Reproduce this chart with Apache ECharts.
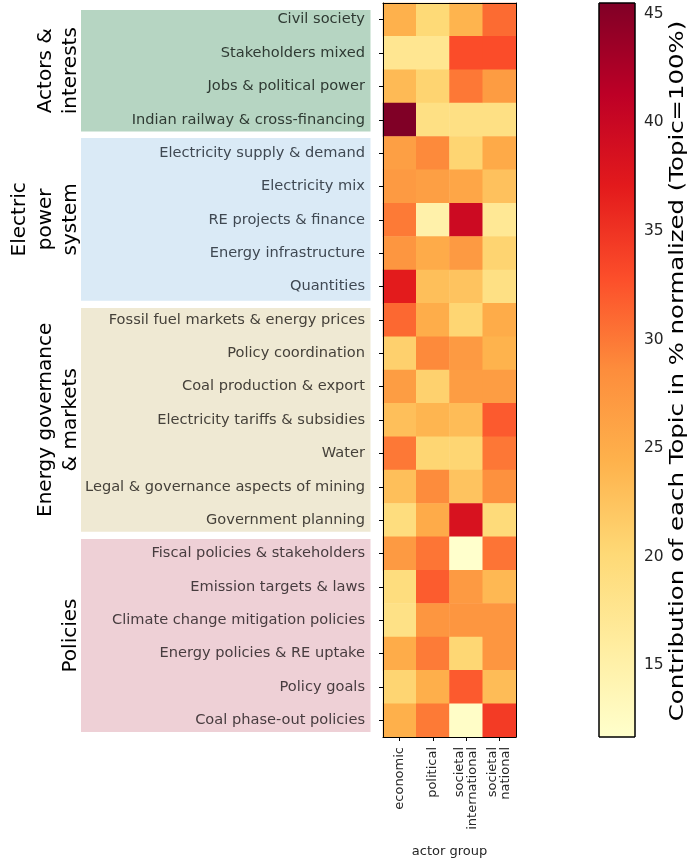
<!DOCTYPE html>
<html>
<head>
<meta charset="utf-8">
<script src="https://cdn.jsdelivr.net/npm/echarts@6/dist/echarts.min.js"></script>
<style>
  html, body { margin: 0; padding: 0; background: #ffffff; }
  #chart { width: 691px; height: 863px; }
</style>
</head>
<body>
<div id="chart"></div>
<script>
// Actor groups (columns) and topics (rows, top to bottom)
const actorGroups = ['economic', 'political', 'societal\ninternational', 'societal\nnational'];
const topics = [
  'Civil society',
  'Stakeholders mixed',
  'Jobs & political power',
  'Indian railway & cross-financing',
  'Electricity supply & demand',
  'Electricity mix',
  'RE projects & finance',
  'Energy infrastructure',
  'Quantities',
  'Fossil fuel markets & energy prices',
  'Policy coordination',
  'Coal production & export',
  'Electricity tariffs & subsidies',
  'Water',
  'Legal & governance aspects of mining',
  'Government planning',
  'Fiscal policies & stakeholders',
  'Emission targets & laws',
  'Climate change mitigation policies',
  'Energy policies & RE uptake',
  'Policy goals',
  'Coal phase-out policies'
];

// Topic families drawn as shaded bands beside the row labels
const familyNames = ['Actors &\ninterests', 'Electric\npower\nsystem', 'Energy governance\n& markets', 'Policies'];
const familyFirstRow = [0, 4, 9, 16];
const familyLastRow = [3, 8, 15, 21];
const familyColors = ['#b6d5c2', '#daeaf6', '#efe9d3', '#eed0d6'];
const familyTextColors = ['#2f3a33', '#3f4852', '#45413a', '#473c3f'];

// Contribution of each topic (% normalized, topic = 100 %) per actor group
const economic = [24.5, 17.4, 23.5, 45.5, 26.5, 27.1, 29.9, 27.6, 37.0, 31.1, 21.1,
                  26.8, 23.0, 30.0, 23.0, 19.3, 27.1, 19.3, 18.5, 25.1, 20.6, 24.6];
const political = [20.0, 17.4, 20.7, 18.7, 28.8, 26.5, 15.0, 25.2, 23.0, 25.0, 28.8,
                   21.0, 24.0, 20.5, 28.7, 25.2, 30.2, 31.9, 27.6, 29.8, 24.7, 29.9];
const societalInternational = [24.2, 33.0, 30.0, 18.7, 20.6, 25.7, 39.6, 27.1, 22.5, 20.5, 27.1,
                               26.8, 23.3, 20.5, 22.5, 38.4, 11.7, 27.1, 27.6, 20.4, 32.0, 12.2];
const societalNational = [30.9, 33.0, 26.9, 18.7, 25.3, 22.7, 17.0, 20.7, 18.7, 25.1, 24.3,
                          26.8, 32.0, 30.1, 28.2, 19.7, 30.3, 23.7, 27.6, 27.6, 23.3, 34.4];

// Colour scale
const valueMin = 11.7;
const valueMax = 45.5;
const colorbarTicks = [15, 20, 25, 30, 35, 40, 45];
const colorbarTitle = 'Contribution of each Topic in % normalized (Topic=100%)';
const ylOrRd = ['#ffffcc', '#ffeda0', '#fed976', '#feb24c', '#fd8d3c',
                '#fc4e2a', '#e31a1c', '#bd0026', '#800026'];

const FONT = 'DejaVu Sans';
const columns = [economic, political, societalInternational, societalNational];
const cells = [];
columns.forEach((col, x) => col.forEach((v, y) => cells.push([x, y, v])));

const chart = echarts.init(document.getElementById('chart'), null, { renderer: 'canvas' });

const heatGrid = { left: 383, top: 3, width: 133, height: 734 };
const barGrid = { left: 599, top: 3, width: 36, height: 734 };
const blackLine = { show: true, lineStyle: { color: '#000000', width: 1 } };

chart.setOption({
  animation: false,
  backgroundColor: '#ffffff',
  textStyle: { fontFamily: FONT },
  grid: [heatGrid, barGrid],
  xAxis: [
    {
      gridIndex: 0, type: 'category', data: actorGroups, position: 'bottom', z: 10,
      axisLine: blackLine,
      axisTick: { show: true, alignWithLabel: true, length: 4, lineStyle: { color: '#000' } },
      axisLabel: { rotate: 90, fontSize: 13, margin: 10, color: '#262626', fontFamily: FONT, interval: 0 },
      splitLine: { show: false },
      name: 'actor group', nameLocation: 'middle', nameGap: 108,
      nameTextStyle: { fontSize: 13, color: '#262626', fontFamily: FONT }
    },
    {
      gridIndex: 0, type: 'category', data: actorGroups, position: 'top', z: 10,
      axisLine: blackLine, axisTick: { show: false }, axisLabel: { show: false }
    },
    { gridIndex: 1, type: 'value', min: 0, max: 1, show: false }
  ],
  yAxis: [
    {
      gridIndex: 0, type: 'category', data: topics, inverse: true, z: 10,
      axisLine: blackLine,
      axisTick: { show: true, alignWithLabel: true, length: 4, lineStyle: { color: '#000' } },
      axisLabel: {
        fontSize: 14.6, margin: 18, fontFamily: FONT, interval: 0,
        color: (val, idx) => {
          let f = 0;
          familyFirstRow.forEach((r, k) => { if (idx >= r) f = k; });
          return familyTextColors[f];
        }
      },
      splitLine: { show: false }
    },
    {
      gridIndex: 0, type: 'category', data: topics, inverse: true, position: 'right', z: 10,
      axisLine: blackLine, axisTick: { show: false }, axisLabel: { show: false }
    },
    {
      gridIndex: 1, type: 'value', min: valueMin, max: valueMax, position: 'right',
      axisLine: { show: false },
      axisTick: { show: true, length: 4, customValues: colorbarTicks, lineStyle: { color: '#000' } },
      axisLabel: { customValues: colorbarTicks, fontSize: 15.5, margin: 9, color: '#262626', fontFamily: FONT },
      splitLine: { show: false }
    }
  ],
  visualMap: {
    type: 'continuous', show: false, seriesIndex: 0,
    min: valueMin, max: valueMax, inRange: { color: ylOrRd }
  },
  series: [
    {
      type: 'heatmap', xAxisIndex: 0, yAxisIndex: 0, data: cells,
      itemStyle: { borderWidth: 0 },
      emphasis: { disabled: true }
    },
    {
      // colour bar drawn on its own value axis
      type: 'custom', xAxisIndex: 2, yAxisIndex: 2, data: [[0, valueMin]], silent: true,
      renderItem: (params, api) => {
        const p0 = api.coord([0, valueMax]);
        const p1 = api.coord([1, valueMin]);
        const stops = ylOrRd.map((c, i) => ({ offset: 1 - i / (ylOrRd.length - 1), color: c })).reverse();
        return {
          type: 'rect',
          shape: { x: p0[0], y: p0[1], width: p1[0] - p0[0], height: p1[1] - p0[1] },
          style: {
            fill: new echarts.graphic.LinearGradient(0, 0, 0, 1, stops),
            stroke: '#000000', lineWidth: 1
          }
        };
      }
    }
  ]
});

// Family bands and their rotated titles, placed from the row positions
const rowH = heatGrid.height / topics.length;
const bandLeft = heatGrid.left - 302;
const bandRight = heatGrid.left - 12.5;
const bandInsetTop = [7, 1.6, 4.7, 2.2];
const bandInsetBottom = [5, 2.6, 5.1, 5];
const graphics = [];
familyNames.forEach((name, k) => {
  const yFirst = chart.convertToPixel({ yAxisIndex: 0 }, topics[familyFirstRow[k]]);
  const yLast = chart.convertToPixel({ yAxisIndex: 0 }, topics[familyLastRow[k]]);
  const top = yFirst - rowH / 2 + bandInsetTop[k];
  const bottom = yLast + rowH / 2 - bandInsetBottom[k];
  graphics.push({
    type: 'rect', z: 1, silent: true,
    shape: { x: bandLeft, y: top, width: bandRight - bandLeft, height: bottom - top },
    style: { fill: familyColors[k] }
  });
  graphics.push({
    type: 'text', z: 2, silent: true,
    x: bandLeft + 3, y: (top + bottom) / 2, rotation: Math.PI / 2,
    style: {
      text: name, fontSize: 20, fontFamily: FONT, fill: '#000000',
      align: 'center', verticalAlign: 'bottom', lineHeight: 25.5
    }
  });
});

// Colour bar title, set along the bar in a narrow, tall face
graphics.push({
  type: 'text', silent: true,
  x: barGrid.left + barGrid.width + 43, y: barGrid.top + barGrid.height / 2 + 1,
  rotation: Math.PI / 2, scaleX: 1.25,
  style: {
    text: colorbarTitle, fontSize: 19.5, fontFamily: FONT, fill: '#000000',
    align: 'center', verticalAlign: 'middle'
  }
});
chart.setOption({ graphic: graphics });
</script>
</body>
</html>
